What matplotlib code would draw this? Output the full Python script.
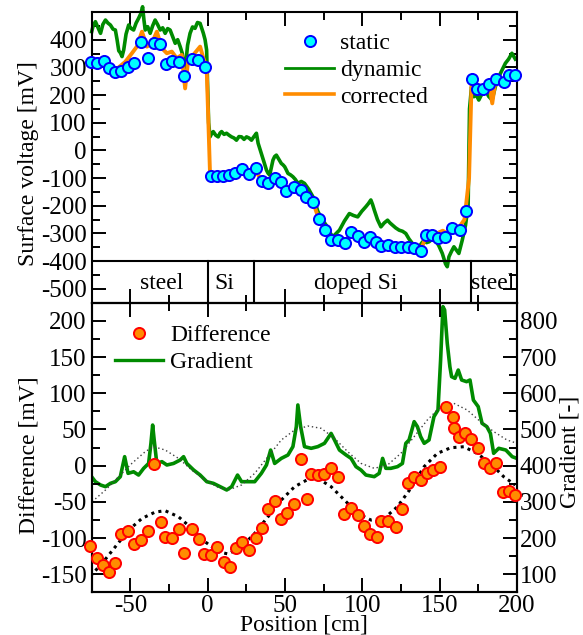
import matplotlib
matplotlib.use("Agg")
import matplotlib.pyplot as plt
from matplotlib.lines import Line2D
from matplotlib.ticker import MultipleLocator

plt.rcParams["font.family"] = ["Liberation Serif", "DejaVu Serif"]
plt.rcParams["axes.unicode_minus"] = False

# ---------------- top panel: surface voltage ----------------
static_x = [-75.7, -71.5, -67.2, -63.6, -59.7, -55.8, -51.8, -47.9, -43.0, -38.9,
            -35.0, -30.7, -27.0, -22.8, -18.5, -15.0, -10.3, -6.0, -1.7,
            1.9, 6.2, 10.0, 13.9, 17.8, 22.1, 26.8, 31.5, 34.8, 39.0, 43.3, 47.2,
            50.9, 55.6, 60.5, 63.7, 68.0, 71.9, 76.0, 79.8, 84.5, 89.0, 92.7, 97.0,
            100.8, 105.0, 108.8, 112.0, 116.3, 121.2, 124.9, 129.2, 133.5, 138.0,
            141.0, 145.3, 149.1, 153.4, 158.1, 162.9, 166.8,
            170.6, 174.3, 178.1, 182.2, 186.1, 191.4, 195.1, 199.0]
static_y = [318, 315, 323, 299, 282, 288, 302, 315, 390, 333,
            387, 383, 311, 324, 319, 270, 330, 326, 302,
            -93, -91, -91, -88, -81, -67, -85, -63, -111, -117, -99, -115,
            -147, -131, -143, -170, -188, -249, -288, -324, -324, -336, -294, -308,
            -330, -314, -330, -346, -342, -348, -348, -348, -354, -363,
            -306, -306, -318, -312, -280, -288, -218,
            257, 222, 222, 240, 257, 248, 272, 272]

dynamic_x = [-75.0, -74.0, -72.6, -71.2, -69.3, -67.8, -66.1, -64.5, -62.9, -61.2,
             -59.7, -58.6, -57.5, -56.4, -55.4, -54.3, -52.8, -51.1, -49.6, -47.9,
             -46.3, -44.7, -43.2, -42.1, -41.2, -40.4, -38.8, -37.2, -35.6, -34.0,
             -32.4, -30.7, -29.1, -27.5, -25.9, -24.3, -22.6, -21.0, -19.4, -17.8,
             -16.4, -15.5, -14.6, -13.0, -11.4, -9.8, -8.2, -6.6, -4.9, -3.8,
             -2.8, -1.7, -0.7, 0.6,
             1.5, 2.5, 3.6, 5.2, 6.8, 8.0, 9.0, 10.6, 12.2, 13.8, 15.4, 17.0, 18.6,
             20.2, 21.9, 23.5, 25.1, 26.7, 28.3, 29.9, 31.5, 32.6,
             34.7, 36.3, 38.0, 39.0, 40.1, 41.2, 42.2, 43.3, 44.4, 46.0, 47.6, 48.7,
             49.8, 50.8, 51.9, 53.5, 55.1, 56.7, 58.3,
             60.5, 62.6, 65.3, 68.0, 69.6, 71.2, 73.9, 76.6, 78.8, 80.9, 83.0, 85.2,
             88.4, 91.6, 94.3, 97.0, 99.6, 102.3, 103.9, 105.5, 106.6, 107.7,
             109.8, 112.0, 114.1, 116.3, 117.9, 119.5, 121.6, 123.8, 126.0, 128.1,
             130.2, 132.4, 134.5, 136.7, 138.3, 139.9, 141.5, 143.1, 145.2, 147.4,
             149.5, 151.7, 153.8, 154.9, 156.0, 157.6, 159.2, 160.8, 162.4, 164.6,
             166.7, 168.4, 169.3, 170.6,
             172.1, 173.7, 175.3, 177.4, 179.6, 181.7, 183.9, 186.0, 188.2, 190.3,
             192.5, 194.6, 196.7, 198.9]
dynamic_y = [429, 452, 465, 447, 423, 455, 471, 460, 453, 438,
             435, 400, 360, 352, 339, 363, 420, 453, 441, 435,
             460, 477, 495, 519, 470, 435, 447, 423, 450, 471,
             455, 435, 443, 423, 440, 435, 410, 387, 400, 375,
             350, 300, 290, 380, 423, 446, 441, 462, 459, 440,
             423, 400, 363, 100,
             49, 60, 68, 55, 49, 63, 68, 58, 62, 55, 49, 45, 37,
             50, 49, 40, 49, 45, 37, 50, 62, 26,
             -11, -40, -71, -82, -89, -60, -35, -22, -17, -32, -47, -52,
             -59, -70, -83, -88, -95, -105, -119,
             -112, -119, -140, -167, -190, -220, -248, -270, -295, -312, -300, -288,
             -255, -228, -235, -240, -220, -203, -192, -179, -195, -215,
             -250, -276, -262, -252, -262, -270, -280, -288, -292, -300,
             -320, -336, -342, -348, -335, -324, -333, -330, -320, -324,
             -345, -372, -410, -420, -384, -365, -348, -360, -372, -324,
             -270, -200, 150, 230,
             194, 200, 182, 205, 218, 195, 182, 230, 266, 290,
             315, 330, 351, 330]

corrected_x = [-75.0, -69.3, -66.1, -59.7, -53.3, -49.0, -45.8, -42.5, -39.3, -36.1,
               -32.9, -29.6, -26.4, -23.2, -20.0, -16.8, -14.6, -12.5, -9.3, -4.9,
               -2.8, -0.7, 1.5, 5, 10, 15, 20, 25, 30, 35, 40, 45, 50, 55, 60, 65,
               68, 72, 76, 80, 85, 89, 92, 97, 101, 105, 109, 112, 116, 121, 125,
               129, 134, 138, 141, 145, 148, 152, 155, 158, 162, 166, 169, 170.6,
               174, 178, 182, 184, 186, 191, 195, 200]
corrected_y = [320, 320, 308, 290, 320, 351, 375, 429, 375, 387,
               429, 369, 351, 357, 333, 345, 224, 333, 345, 375,
               333, 302, -83, -90, -91, -85, -75, -80, -70, -105, -112, -105, -140,
               -130, -150, -172, -185, -250, -290, -322, -325, -335, -300, -305,
               -328, -310, -332, -345, -340, -350, -348, -348, -354, -360, -310,
               -305, -300, -290, -300, -285, -282, -250, -100, 240,
               225, 225, 238, 170, 250, 250, 270, 275]

band_edges = [0, 30, 170]
band_names = ["steel", "Si", "doped Si", "steel"]
band_label_x = [-30, 11, 96, 184]

# ---------------- bottom panel: difference and gradient ----------------
diff_x = [-75.8, -71.5, -67.8, -63.5, -59.7, -55.8, -51.7, -47.9, -42.9, -38.9,
          -34.6, -30.3, -27.5, -22.8, -18.3, -15.0, -10.3, -5.4, -2.2, 2.1,
          6.2, 10.5, 14.4, 18.2, 22.5, 26.8, 31.1, 35.4, 39.0, 43.3,
          47.6, 51.3, 55.6, 60.5, 64.4, 66.9, 71.2, 75.5, 79.8, 84.1,
          88.4, 92.7, 97.0, 101.3, 105.1, 109.2, 112.0, 116.7, 121.7, 125.9,
          129.2, 133.5, 137.7, 142.0, 145.7, 150.0, 153.8, 158.8, 159.2, 162.4,
          166.3, 170.4, 174.7, 178.5, 182.4, 186.5, 190.8, 195.0, 198.9]
diff_y = [-110.6, -128, -137, -146.5, -134, -95, -90, -108, -103, -90,
          1.7, -78.4, -98, -100.5, -88, -120, -87.6, -101.4, -122, -123,
          -112, -133.6, -139.6, -114.3, -106, -116.6, -99.6, -85.8, -60.4, -48.9,
          -73.8, -66, -53, 9.1, -46.6, -11.6, -13, -12, -3.8, -15.3,
          -66.9, -58.1, -68.3, -83.4, -95, -99.1, -76, -76, -84.4, -60,
          -24.5, -15.3, -19.9, -10.7, -6.1, -1.5, 81.4, 67.6, 51.4, 40,
          44.5, 36.3, 23.8, 3.1, -3.8, 3.1, -36, -34.6, -40.6]

grad_x = [-75.1, -72.6, -69.3, -66.1, -62.9, -59.7, -56.5, -53.7, -51.5, -47.9,
          -44.7, -41.4, -38.2, -36.7, -35.6, -34.6, -32.9, -29.6, -26.4, -22.1,
          -17.8, -15.6, -13.5, -9.1, -4.9, -0.6, 3.7, 8.0, 12.3, 15.5,
          19.3, 21.9, 26.2, 30.4, 34.7, 38.0, 40.7, 43.3, 47.6, 51.9,
          55.1, 57.3, 58.3, 60.1, 62.6, 66.9, 71.2, 75.5, 79.8, 82.0,
          85.2, 89.5, 92.7, 95.9, 99.1, 102.3, 107.7, 110.9, 113.1, 115.2,
          118.4, 122.7, 125.9, 128.1, 130.2, 133.5, 135.6, 137.7, 140.0, 143.1,
          146.3, 148.9, 150.6, 152.1, 153.2, 154.9, 156.6, 157.7, 159.9, 162.0,
          164.2, 167.4, 169.6, 171.8, 174.9, 177.4, 180.5, 182.8, 184.9, 188.2,
          192.8, 196.9, 199.9]
grad_y = [369.5, 355.6, 346.5, 341.9, 351, 355.6, 369.5, 424.7, 378.7, 383,
          374, 392.5, 406, 461.6, 512, 470.8, 406, 410.9, 401.7, 406,
          415.5, 424.7, 406, 387.9, 374, 355.6, 351, 341.9, 332.7, 341.9,
          374, 355.6, 355.6, 355.6, 378.7, 401.7, 443, 406, 420, 429.3,
          452.4, 507.6, 567.5, 507.6, 452.4, 447.8, 452.4, 461.6, 489, 470.8,
          443, 429.3, 420, 397.1, 387.9, 374, 369.5, 378.7, 420, 392.5,
          392.5, 397.1, 406, 461.6, 470.8, 521.4, 507.6, 480, 461.6, 470.8,
          535.2, 553.6, 691.8, 839, 830, 737.8, 673.3, 645.7, 641.1, 664,
          636.5, 631.9, 636.5, 581, 563, 516.8, 507.6, 489, 434, 447.8,
          443, 424.7, 420]

fit_grad_x = [-74.7, -66.1, -57.5, -49.0, -40.4, -35.0, -27.5, -18.9, -10.3, -1.7,
              6.8, 13.3, 21.9, 30.4, 39.0, 47.6, 56.2, 64.8, 73.4, 82.0,
              90.5, 99.1, 107.7, 116.3, 124.9, 133.5, 142.0, 150.6, 159.2, 167.8,
              176.4, 185.0, 193.5, 200.0]
fit_grad_y = [300.4, 332.6, 369.5, 406.3, 438.5, 452.4, 443.1, 420.1, 387.9, 360.3,
              340.0, 332.6, 346.5, 378.7, 424.7, 470.8, 498.4, 509.4, 503.0, 475.4,
              438.5, 406.3, 392.5, 401.7, 433.9, 480.0, 526.0, 562.8, 572.0, 553.6,
              521.4, 493.8, 470.8, 461.6]

fit_diff_x = [-75.8, -68.3, -59.7, -51.1, -42.5, -33.9, -27.5, -18.9, -10.3, -1.7,
              6.8, 13.3, 21.9, 30.4, 39.0, 47.6, 56.2, 64.8, 71.2, 79.8,
              88.4, 97.0, 105.6, 114.1, 122.7, 131.3, 139.9, 148.5, 157.1, 165.6,
              174.2, 182.8, 191.4, 198.9]
fit_diff_y = [-152.5, -135, -112, -89, -72.9, -64.1, -62.3, -70.6, -86.7, -105.1,
              -118.9, -122.1, -112, -93.6, -70.6, -47.5, -29.1, -19, -17.6, -29.1,
              -47.5, -66, -75.2, -72.9, -56.7, -31.4, -1.5, 16.9, 24.7, 26.1,
              16.9, 3.1, -15.3, -26.8]

green = "#008b00"
orange = "#ff8c00"


def style(ax):
    for s in ax.spines.values():
        s.set_linewidth(1.5)
    ax.tick_params(which="both", direction="in", width=1.4, labelsize=18, pad=3.5)
    ax.tick_params(which="major", length=10)
    ax.tick_params(which="minor", length=5.8)


fig = plt.figure(figsize=(5.83, 6.35), dpi=100)
ax1 = fig.add_axes([0.1573, 0.5233, 0.7295, 0.4578])
ax2 = fig.add_axes([0.1573, 0.0672, 0.7295, 0.4561])
ax3 = ax2.twinx()

# top panel
ax1.plot(dynamic_x, dynamic_y, color=green, lw=2.6, clip_on=False, zorder=2)
ax1.plot(corrected_x, corrected_y, color=orange, lw=2.8, zorder=3)
ax1.plot(static_x, static_y, "o", ms=8, mfc="#00ffff", mec="#0000ff", mew=1.4,
         clip_on=False, zorder=4)
ax1.axhline(-400, color="black", lw=1.5)
for e in band_edges:
    ax1.plot([e, e], [-550, -400], color="black", lw=1.5)
for name, bx in zip(band_names, band_label_x):
    ax1.text(bx, -480, name, ha="center", va="center", fontsize=17)

ax1.set_xlim(-75, 200)
ax1.set_ylim(-550, 500)
ax1.xaxis.set_major_locator(MultipleLocator(50))
ax1.xaxis.set_minor_locator(MultipleLocator(25))
ax1.set_yticks(range(-500, 401, 100))
ax1.yaxis.set_minor_locator(MultipleLocator(50))
style(ax1)
ax1.tick_params(which="both", top=True, right=True, labelbottom=False)
ax1.set_ylabel("Surface voltage [mV]", fontsize=17, va="center")
ax1.yaxis.set_label_coords(-0.148, 0.478)

h_top = [Line2D([], [], ls="none", marker="o", ms=8, mfc="#00ffff", mec="#0000ff", mew=1.4),
         Line2D([], [], color=green, lw=2.0),
         Line2D([], [], color=orange, lw=2.6)]
ax1.legend(h_top, ["static", "dynamic", "corrected"], loc="upper left",
           bbox_to_anchor=(0.4545, 0.929), frameon=False, fontsize=17,
           handlelength=2.08, handletextpad=0.25, labelspacing=0.22,
           borderpad=0, borderaxespad=0)

# bottom panel
ax3.plot(grad_x, grad_y, color=green, lw=2.6, zorder=2)
ax3.plot(fit_grad_x, fit_grad_y, color="0.25", lw=1.0, ls=(0, (1, 2)))
ax2.plot(fit_diff_x, fit_diff_y, color="black", lw=2.2, ls=(0, (1, 1.4)))
ax2.plot(diff_x, diff_y, "o", ms=8, mfc=orange, mec="#ff0000", mew=1.4,
         clip_on=False, zorder=4)
ax2.set_zorder(ax3.get_zorder() + 1)
ax2.patch.set_visible(False)

ax2.set_xlim(-75, 200)
ax2.set_ylim(-175, 225)
ax2.xaxis.set_major_locator(MultipleLocator(50))
ax2.xaxis.set_minor_locator(MultipleLocator(25))
ax2.set_yticks(range(-150, 201, 50))
ax2.yaxis.set_minor_locator(MultipleLocator(25))
style(ax2)
ax2.tick_params(which="both", top=True, right=False)
ax2.tick_params(axis="x", which="both", pad=2.0)
ax2.set_ylabel("Difference [mV]", fontsize=17, va="center")
ax2.yaxis.set_label_coords(-0.148, 0.472)
ax2.set_xlabel("Position [cm]", fontsize=17, va="center")
ax2.xaxis.set_label_coords(0.5, -0.112)

ax3.set_ylim(50, 850)
ax3.set_yticks(range(100, 801, 100))
ax3.yaxis.set_minor_locator(MultipleLocator(50))
style(ax3)
ax3.tick_params(which="both", pad=2)
ax3.set_ylabel("Gradient [-]", fontsize=17, va="center")
ax3.yaxis.set_label_coords(1.125, 0.484)

h_bot = [Line2D([], [], ls="none", marker="o", ms=8, mfc=orange, mec="#ff0000", mew=1.4),
         Line2D([], [], color=green, lw=2.4)]
ax2.legend(h_bot, ["Difference", "Gradient"], loc="upper left",
           bbox_to_anchor=(0.0548, 0.924), frameon=False, fontsize=17,
           handlelength=2.05, handletextpad=0.3, labelspacing=0.24,
           borderpad=0, borderaxespad=0)

fig.savefig("out.png", dpi=100)
